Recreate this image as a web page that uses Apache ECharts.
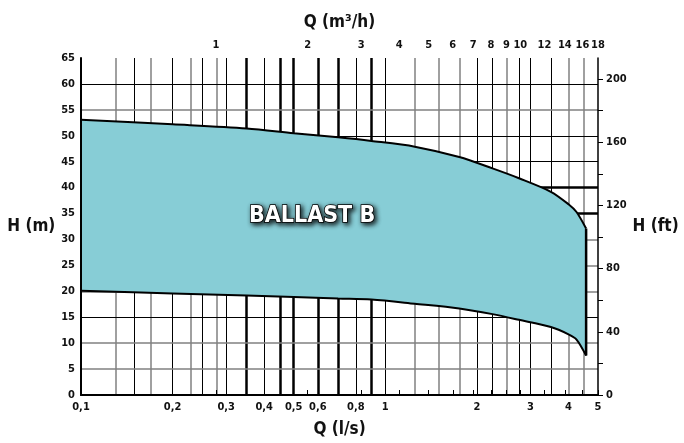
<!DOCTYPE html>
<html>
<head>
<meta charset="utf-8">
<script src="https://cdn.jsdelivr.net/npm/echarts@6/dist/echarts.min.js"></script>
<style>
html, body { margin: 0; padding: 0; background: #fff; }
#chart { width: 684px; height: 443px; }
</style>
</head>
<body>
<div id="chart"></div>
<script>
// caudal en l/s, altura en m
const flow = [0.1, 0.2, 0.35, 0.5, 0.7, 0.9, 1.25, 1.75, 2.25, 2.75, 3.5, 4, 4.25, 4.57];
const headMax = [53.1, 52.2, 51.4, 50.5, 49.7, 49.0, 47.9, 45.9, 43.7, 41.8, 39.2, 36.8, 35.3, 32.1];
const headMin = [20.1, 19.6, 19.2, 18.9, 18.6, 18.4, 17.6, 16.7, 15.6, 14.5, 13.1, 11.7, 10.7, 7.6];

// etiquetas de los ejes
const flowLabels = [0.1, 0.2, 0.3, 0.4, 0.5, 0.6, 0.8, 1, 2, 3, 4, 5];
const flowM3hLabels = [1, 2, 3, 4, 5, 6, 7, 8, 9, 10, 12, 14, 16, 18];
const feetTicks = [0, 20, 40, 60, 80, 100, 120, 140, 160, 180, 200];
const feetLabels = [0, 40, 80, 120, 160, 200];

// lineas de la cuadricula vertical (l/s)
const vGridGray = [0.125, 0.175, 0.225, 0.275, 1.25, 1.5, 1.75, 2.5, 4, 4.5];
const vGridBlack = [0.15, 0.2, 0.25, 0.3, 0.4, 0.8, 1, 2, 2.25, 2.75, 3, 3.5];
const vGridBold = [0.35, 0.45, 0.5, 0.6, 0.7, 0.9];
// lineas de la cuadricula horizontal (m)
const hGridGray = [5, 10, 20, 25, 30, 55];
const hGridBlack = [15, 45, 50, 60];
const hGridBold = [35, 40];

const FONT = '"Liberation Sans Narrow", "DejaVu Sans Condensed", "Roboto", sans-serif';
const M_TO_FT = 3.28084;

const labelStyle = {
    color: '#111',
    fontFamily: FONT,
    fontWeight: 'bold',
    fontSize: 11
};
const nameStyle = {
    color: '#111',
    fontFamily: FONT,
    fontWeight: 'bold',
    fontSize: 17
};

const gray = { color: '#808080', width: 1.5, type: 'solid' };
const black = { color: '#000', width: 1, type: 'solid' };
const bold = { color: '#000', width: 2.5, type: 'solid' };

const gridLines = [].concat(
    vGridGray.map(v => ({ xAxis: v, lineStyle: gray })),
    vGridBlack.map(v => ({ xAxis: v, lineStyle: black })),
    vGridBold.map(v => ({ xAxis: v, lineStyle: bold })),
    hGridGray.map(v => ({ yAxis: v, lineStyle: gray })),
    hGridBlack.map(v => ({ yAxis: v, lineStyle: black })),
    hGridBold.map(v => ({ yAxis: v, lineStyle: bold }))
);

const fmt = v => String(+(+v).toPrecision(3)).replace('.', ',');

var myChart = echarts.init(document.getElementById('chart'), null, { renderer: 'canvas' });

var option = {
    animation: false,
    title: {
        text: 'BALLAST B',
        left: 244,
        top: 200,
        textStyle: {
            color: '#fff',
            fontFamily: FONT,
            fontWeight: 'bold',
            fontSize: 23,
            textBorderColor: '#000',
            textBorderWidth: 1.5,
            textShadowColor: 'rgba(0,0,0,0.9)',
            textShadowBlur: 5,
            textShadowOffsetX: 2,
            textShadowOffsetY: 2
        }
    },
    grid: {
        left: 81,
        right: 86,
        top: 58,
        bottom: 40,
        containLabel: false
    },
    xAxis: [{
        type: 'log',
        logBase: 10,
        min: 0.1,
        max: 5,
        position: 'bottom',
        z: 10,
        axisLine: { lineStyle: { color: '#000', width: 2 } },
        axisTick: { show: false },
        minorTick: { show: false },
        splitLine: { show: false },
        axisLabel: Object.assign({ customValues: flowLabels, formatter: fmt, margin: 7 }, labelStyle),
        name: 'Q (l/s)',
        nameLocation: 'middle',
        nameGap: 26,
        nameTextStyle: nameStyle
    }, {
        type: 'log',
        logBase: 10,
        min: 0.1 * 3.6,
        max: 5 * 3.6,
        position: 'top',
        z: 10,
        axisLine: { lineStyle: { color: '#000', width: 1.5 } },
        axisTick: { show: true, customValues: flowM3hLabels, length: 5, lineStyle: { color: '#000', width: 1 } },
        minorTick: { show: false },
        splitLine: { show: false },
        axisLabel: Object.assign({ customValues: flowM3hLabels, formatter: fmt, margin: 7 }, labelStyle),
        name: 'Q (m³/h)',
        nameLocation: 'middle',
        nameGap: 27,
        nameTextStyle: nameStyle
    }],
    yAxis: [{
        type: 'value',
        min: 0,
        max: 65,
        interval: 5,
        z: 10,
        axisLine: { show: true, lineStyle: { color: '#000', width: 2 } },
        axisTick: { show: false },
        splitLine: { show: false },
        axisLabel: Object.assign({ margin: 6 }, labelStyle),
        name: 'H (m)',
        nameLocation: 'middle',
        nameRotate: 0,
        nameGap: 24,
        nameTextStyle: nameStyle
    }, {
        type: 'value',
        min: 0,
        max: 65 * M_TO_FT,
        position: 'right',
        z: 10,
        axisLine: { show: true, lineStyle: { color: '#000', width: 1.5 } },
        axisTick: { show: true, customValues: feetTicks, length: 5, lineStyle: { color: '#000', width: 1 } },
        splitLine: { show: false },
        axisLabel: Object.assign({ customValues: feetLabels, margin: 8 }, labelStyle),
        name: 'H (ft)',
        nameLocation: 'middle',
        nameRotate: 0,
        nameGap: 31,
        nameTextStyle: nameStyle
    }],
    series: [{
        name: 'cuadricula',
        type: 'line',
        xAxisIndex: 0,
        yAxisIndex: 0,
        data: [],
        z: 1,
        markLine: {
            z: 1,
            silent: true,
            symbol: ['none', 'none'],
            label: { show: false },
            emphasis: { disabled: true },
            data: gridLines
        }
    }, {
        // altura primero para que el apilado se haga sobre el eje y
        name: 'minimo',
        type: 'line',
        xAxisIndex: 0,
        yAxisIndex: 0,
        stack: 'banda',
        smooth: 0.3,
        symbol: 'none',
        z: 4,
        encode: { x: 1, y: 0 },
        lineStyle: { color: '#000', width: 2 },
        data: flow.map((q, i) => [headMin[i], q])
    }, {
        name: 'banda',
        type: 'line',
        xAxisIndex: 0,
        yAxisIndex: 0,
        stack: 'banda',
        smooth: 0.3,
        symbol: 'none',
        z: 3,
        encode: { x: 1, y: 0 },
        lineStyle: { color: '#000', width: 2 },
        areaStyle: { color: '#87cdd6', opacity: 1 },
        data: flow.map((q, i) => [headMax[i] - headMin[i], q])
    }, {
        name: 'borde',
        type: 'line',
        xAxisIndex: 0,
        yAxisIndex: 0,
        symbol: 'none',
        z: 4,
        lineStyle: { color: '#000', width: 2.5 },
        data: [
            [flow[flow.length - 1], headMax[headMax.length - 1]],
            [flow[flow.length - 1], headMin[headMin.length - 1]]
        ]
    }]
};

myChart.setOption(option);
</script>
</body>
</html>
